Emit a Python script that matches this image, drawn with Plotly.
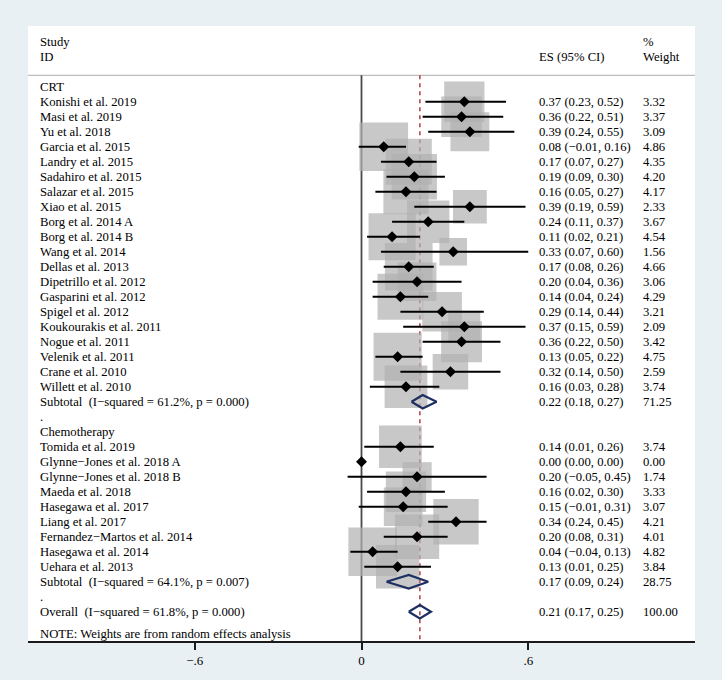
import plotly.graph_objects as go

# ---------------- data ----------------
crt_studies = ["Konishi et al. 2019", "Masi et al. 2019", "Yu et al. 2018", "Garcia et al. 2015",
               "Landry et al. 2015", "Sadahiro et al. 2015", "Salazar et al. 2015", "Xiao et al. 2015",
               "Borg et al. 2014 A", "Borg et al. 2014 B", "Wang et al. 2014", "Dellas et al. 2013",
               "Dipetrillo et al. 2012", "Gasparini et al. 2012", "Spigel et al. 2012",
               "Koukourakis et al. 2011", "Nogue et al. 2011", "Velenik et al. 2011",
               "Crane et al. 2010", "Willett et al. 2010"]
crt_es = [0.37, 0.36, 0.39, 0.08, 0.17, 0.19, 0.16, 0.39, 0.24, 0.11, 0.33, 0.17, 0.20, 0.14, 0.29, 0.37, 0.36, 0.13, 0.32, 0.16]
crt_lo = [0.23, 0.22, 0.24, -0.01, 0.07, 0.09, 0.05, 0.19, 0.11, 0.02, 0.07, 0.08, 0.04, 0.04, 0.14, 0.15, 0.22, 0.05, 0.14, 0.03]
crt_hi = [0.52, 0.51, 0.55, 0.16, 0.27, 0.30, 0.27, 0.59, 0.37, 0.21, 0.60, 0.26, 0.36, 0.24, 0.44, 0.59, 0.50, 0.22, 0.50, 0.28]
crt_w = [3.32, 3.37, 3.09, 4.86, 4.35, 4.20, 4.17, 2.33, 3.67, 4.54, 1.56, 4.66, 3.06, 4.29, 3.21, 2.09, 3.42, 4.75, 2.59, 3.74]

chemo_studies = ["Tomida et al. 2019", "Glynne\u2212Jones et al. 2018 A", "Glynne\u2212Jones et al. 2018 B",
                 "Maeda et al. 2018", "Hasegawa et al. 2017", "Liang et al. 2017",
                 "Fernandez\u2212Martos et al. 2014", "Hasegawa et al. 2014", "Uehara et al. 2013"]
chemo_es = [0.14, 0.00, 0.20, 0.16, 0.15, 0.34, 0.20, 0.04, 0.13]
chemo_lo = [0.01, 0.00, -0.05, 0.02, -0.01, 0.24, 0.08, -0.04, 0.01]
chemo_hi = [0.26, 0.00, 0.45, 0.30, 0.31, 0.45, 0.31, 0.13, 0.25]
chemo_w = [3.74, 0.00, 1.74, 3.33, 3.07, 4.21, 4.01, 4.82, 3.84]

group_names = ["CRT", "Chemotherapy"]
sub_labels = ["Subtotal\u00a0\u00a0(I\u2212squared = 61.2%, p = 0.000)",
              "Subtotal\u00a0\u00a0(I\u2212squared = 64.1%, p = 0.007)"]
sub_es = [0.22, 0.17]
sub_lo = [0.18, 0.09]
sub_hi = [0.27, 0.24]
sub_w = [71.25, 28.75]

overall_label = "Overall\u00a0\u00a0(I\u2212squared = 61.8%, p = 0.000)"
overall_es, overall_lo, overall_hi, overall_w = 0.21, 0.17, 0.25, 100.00
note_text = "NOTE: Weights are from random effects analysis"

tick_vals = [-0.6, 0, 0.6]
tick_text = ["\u2212.6", "0", ".6"]

# ---------------- layout of rows ----------------
FONT = "Liberation Serif, Times New Roman, serif"
FS = 12.7
BOX_K = 22.1        # px per sqrt(weight %)
DIA_H = 0.45        # diamond half-height (rows)
BG = "#E9F0F3"

def fmt(v):
    return f"{v:.2f}".replace("-", "\u2212")

def ci_text(e, l, h):
    return f"{fmt(e)} ({fmt(l)}, {fmt(h)})"

groups = [
    (group_names[0], crt_studies, crt_es, crt_lo, crt_hi, crt_w),
    (group_names[1], chemo_studies, chemo_es, chemo_lo, chemo_hi, chemo_w),
]

labels = []   # (row, left text, es text, weight text)
study_rows, s_es, s_lo, s_hi, s_w = [], [], [], [], []
diamonds = []  # (row, es, lo, hi)
row = 0
for gi, (gname, names, es, lo, hi, w) in enumerate(groups):
    labels.append((row, gname, "", ""))
    row += 1
    for n, e, l, h, ww in zip(names, es, lo, hi, w):
        labels.append((row, n, ci_text(e, l, h), f"{ww:.2f}"))
        study_rows.append(row); s_es.append(e); s_lo.append(l); s_hi.append(h); s_w.append(ww)
        row += 1
    labels.append((row, sub_labels[gi], ci_text(sub_es[gi], sub_lo[gi], sub_hi[gi]), f"{sub_w[gi]:.2f}"))
    diamonds.append((row, sub_es[gi], sub_lo[gi], sub_hi[gi]))
    row += 1
    labels.append((row, ".", "", ""))
    row += 1
labels.append((row, overall_label, ci_text(overall_es, overall_lo, overall_hi), f"{overall_w:.2f}"))
diamonds.append((row, overall_es, overall_lo, overall_hi))
overall_row = row

Y_TOP, Y_BOT = -4.05, overall_row + 1.95
HEADER_LINE = -0.76

fig = go.Figure()

# boxes
fig.add_trace(go.Scatter(
    x=s_es, y=study_rows, mode="markers",
    marker=dict(symbol="square", size=[BOX_K * (w ** 0.5) for w in s_w],
                color="#B1B1B1", line=dict(width=0)),
    hoverinfo="skip", showlegend=False))

# CI lines
cx, cy = [], []
for r, l, h in zip(study_rows, s_lo, s_hi):
    cx += [l, h, None]; cy += [r, r, None]
fig.add_trace(go.Scatter(x=cx, y=cy, mode="lines", line=dict(color="black", width=2.1),
                         hoverinfo="skip", showlegend=False))

# point estimates
fig.add_trace(go.Scatter(x=s_es, y=study_rows, mode="markers",
                         marker=dict(symbol="diamond", size=8.5, color="black"),
                         hoverinfo="skip", showlegend=False))

# diamonds
for r, e, l, h in diamonds:
    fig.add_trace(go.Scatter(x=[l, e, h, e, l], y=[r, r - DIA_H, r, r + DIA_H, r], mode="lines",
                             line=dict(color="#1E2F62", width=2.2),
                             hoverinfo="skip", showlegend=False))

# reference lines (below traces)
fig.add_shape(type="line", x0=0, x1=0, y0=HEADER_LINE, y1=Y_BOT, xref="x", yref="y",
              line=dict(color="#4A4A4A", width=1.8), layer="below")
fig.add_shape(type="line", x0=overall_es, x1=overall_es, y0=HEADER_LINE, y1=Y_BOT, xref="x", yref="y",
              line=dict(color="#B5474F", width=1.6, dash="4px,4px"), layer="below")
fig.add_shape(type="line", x0=0, x1=1, y0=HEADER_LINE, y1=HEADER_LINE, xref="paper", yref="y",
              line=dict(color="#BDBDBD", width=1.2), layer="below")

# text
X_LEFT, X_ES, X_W = 0.0155, 0.7635, 0.9195
def ann(x, y, t):
    fig.add_annotation(x=x, y=y, xref="paper", yref="y", text=t, showarrow=False,
                       xanchor="left", yanchor="middle", font=dict(family=FONT, size=FS, color="black"))

ann(X_LEFT, -2.96, "Study")
ann(X_LEFT, -1.96, "ID")
ann(X_ES, -1.96, "ES (95% CI)")
ann(X_W, -2.96, "%")
ann(X_W, -1.96, "Weight")
for r, t1, t2, t3 in labels:
    ann(X_LEFT, r, t1)
    if t2:
        ann(X_ES, r, t2)
    if t3:
        ann(X_W, r, t3)
ann(X_LEFT, overall_row + 1.5, note_text)

fig.update_layout(
    width=722, height=680,
    margin=dict(l=28, r=27, t=26, b=39),
    paper_bgcolor=BG, plot_bgcolor="white",
    font=dict(family=FONT, color="black"),
    xaxis=dict(range=[-1.2, 1.2], showgrid=False, zeroline=False, showline=True,
               linecolor="#1A1A1A", linewidth=1.5, ticks="outside", ticklen=7, tickwidth=1.5,
               tickcolor="#1A1A1A", tickvals=tick_vals, ticktext=tick_text,
               tickfont=dict(family=FONT, size=13, color="black"), fixedrange=True),
    yaxis=dict(range=[Y_BOT, Y_TOP], visible=False, showgrid=False, zeroline=False, fixedrange=True),
    showlegend=False,
)

fig.write_html("out.html", config={"displayModeBar": False},
               post_script="document.body.style.margin='0';document.body.style.overflow='hidden';"
                           "document.body.style.background='" + BG + "';")
